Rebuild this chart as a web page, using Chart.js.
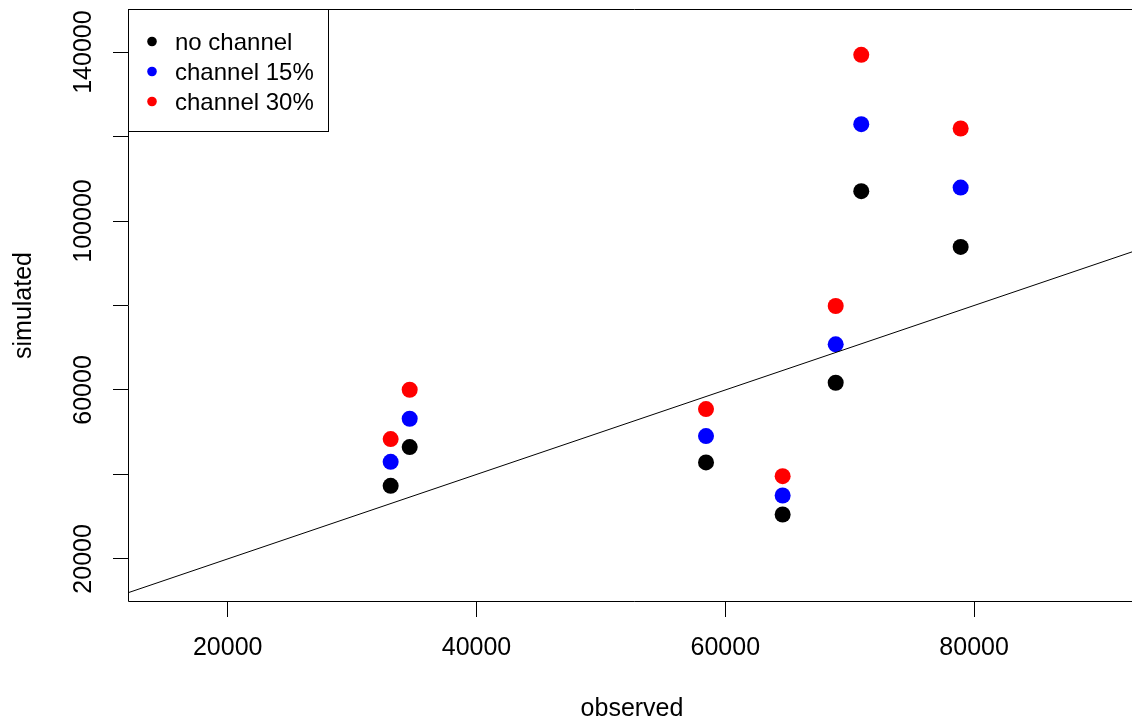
<!DOCTYPE html>
<html>
<head>
<meta charset="utf-8">
<script src="https://cdn.jsdelivr.net/npm/chart.js@4/dist/chart.umd.min.js"></script>
<style>
  html, body { margin: 0; padding: 0; background: #fff; overflow: hidden; }
  #wrap { width: 1140px; height: 723px; position: relative; }
</style>
</head>
<body>
<div id="wrap"><canvas id="c" width="1140" height="723"></canvas></div>
<script>
// ---- data ----
const observed   = [33100, 34630, 58450, 64610, 68875, 70930, 78920];
const noChannel  = [37300, 46470, 42840, 30520, 61710, 107060, 93860];
const channel15  = [42990, 53180, 49080, 35020, 70810, 122940, 107910];
const channel30  = [48370, 60050, 55470, 39600, 79880, 139360, 121900];
const seriesNames = ['no channel', 'channel 15%', 'channel 30%'];
const seriesColors = ['#000000', '#0000ff', '#ff0000'];
const refLine = [0, 200000];               // y = x reference line
const xTicks = [20000, 40000, 60000, 80000];
const yTicks = [20000, 40000, 60000, 80000, 100000, 120000, 140000];
const yTickLabels = [20000, 60000, 100000, 140000];
const xRange = [11986, 93015];
const yRange = [9800, 150200];

const FONT = '"Liberation Sans", Arial, sans-serif';
const toPts = (ys) => observed.map((x, i) => ({ x: x, y: ys[i] }));
const series = [noChannel, channel15, channel30];

const datasets = [{
  type: 'line', label: 'y = x',
  data: refLine.map(v => ({ x: v, y: v })),
  borderColor: '#000', borderWidth: 1, pointRadius: 0, fill: false, order: 0, isRef: true
}];
series.forEach((s, i) => {
  datasets.push({
    type: 'scatter', label: seriesNames[i], data: toPts(s),
    backgroundColor: seriesColors[i], borderColor: seriesColors[i],
    borderWidth: 0, pointRadius: 8, pointHoverRadius: 8, order: 1 + i
  });
});

const boxPlugin = {
  id: 'boxAndLegend',
  afterDraw(chart) {
    const ctx = chart.ctx;
    const a = chart.chartArea;
    ctx.save();
    ctx.strokeStyle = '#000';
    ctx.lineWidth = 1;
    ctx.beginPath();
    ctx.moveTo(a.left + 0.5, a.top + 0.5);
    ctx.lineTo(a.right + 5, a.top + 0.5);
    ctx.moveTo(a.left + 0.5, a.top + 0.5);
    ctx.lineTo(a.left + 0.5, a.bottom - 0.5);
    ctx.lineTo(a.right + 5, a.bottom - 0.5);
    ctx.stroke();
    // legend box (top-left, inside plot)
    const lx0 = a.left + 0.5, ly0 = a.top + 0.5, lx1 = 328.5, ly1 = 131.5;
    ctx.fillStyle = '#fff';
    ctx.fillRect(lx0, ly0, lx1 - lx0, ly1 - ly0);
    ctx.strokeRect(lx0, ly0, lx1 - lx0, ly1 - ly0);
    const items = chart.data.datasets.filter(d => !d.isRef);
    ctx.font = '24px ' + FONT;
    ctx.textAlign = 'left';
    ctx.textBaseline = 'alphabetic';
    items.forEach((d, i) => {
      const y = 41.5 + i * 30;
      ctx.fillStyle = d.backgroundColor;
      ctx.beginPath();
      ctx.arc(152, y, 4.8, 0, Math.PI * 2);
      ctx.fill();
      ctx.fillStyle = '#000';
      ctx.fillText(d.label, 175, y + 8.6);
    });
    ctx.restore();
  }
};

new Chart(document.getElementById('c'), {
  data: { datasets: datasets },
  options: {
    responsive: false, animation: false, devicePixelRatio: 1,
    layout: { autoPadding: false, padding: { top: 9, right: 4, left: 0, bottom: 0 } },
    plugins: { legend: { display: false }, tooltip: { enabled: false } },
    scales: {
      x: {
        type: 'linear', position: 'bottom', min: xRange[0], max: xRange[1],
        afterBuildTicks: (s) => { s.ticks = xTicks.map(v => ({ value: v })); },
        afterFit: (s) => { s.height = 121; s.paddingLeft = 0; s.paddingRight = 0; },
        grid: { display: true, drawOnChartArea: false, drawTicks: true, tickLength: 15, color: '#000', lineWidth: 1 },
        border: { display: false },
        ticks: { autoSkip: false, maxRotation: 0, minRotation: 0, padding: 16, color: '#000',
                 font: { family: FONT, size: 25 }, callback: (v) => String(v) },
        title: { display: true, text: 'observed', color: '#000',
                 font: { family: FONT, size: 25, lineHeight: 1 }, padding: { top: 0, bottom: 1 } }
      },
      y: {
        type: 'linear', position: 'left', min: yRange[0], max: yRange[1],
        afterBuildTicks: (s) => { s.ticks = yTicks.map(v => ({ value: v })); },
        afterFit: (s) => { s.width = 128; s.paddingTop = 0; s.paddingBottom = 0; },
        grid: { display: true, drawOnChartArea: false, drawTicks: true, tickLength: 15, color: '#000', lineWidth: 1 },
        border: { display: false },
        ticks: { autoSkip: false, minRotation: 90, maxRotation: 90, crossAlign: 'center', padding: -13, color: '#000',
                 font: { family: FONT, size: 25 },
                 callback: (v) => yTickLabels.includes(v) ? String(v) : '' },
        title: { display: true, text: 'simulated', color: '#000',
                 font: { family: FONT, size: 25, lineHeight: 1 }, padding: { top: 12, bottom: 0 } }
      }
    }
  },
  plugins: [boxPlugin]
});
</script>
</body>
</html>
